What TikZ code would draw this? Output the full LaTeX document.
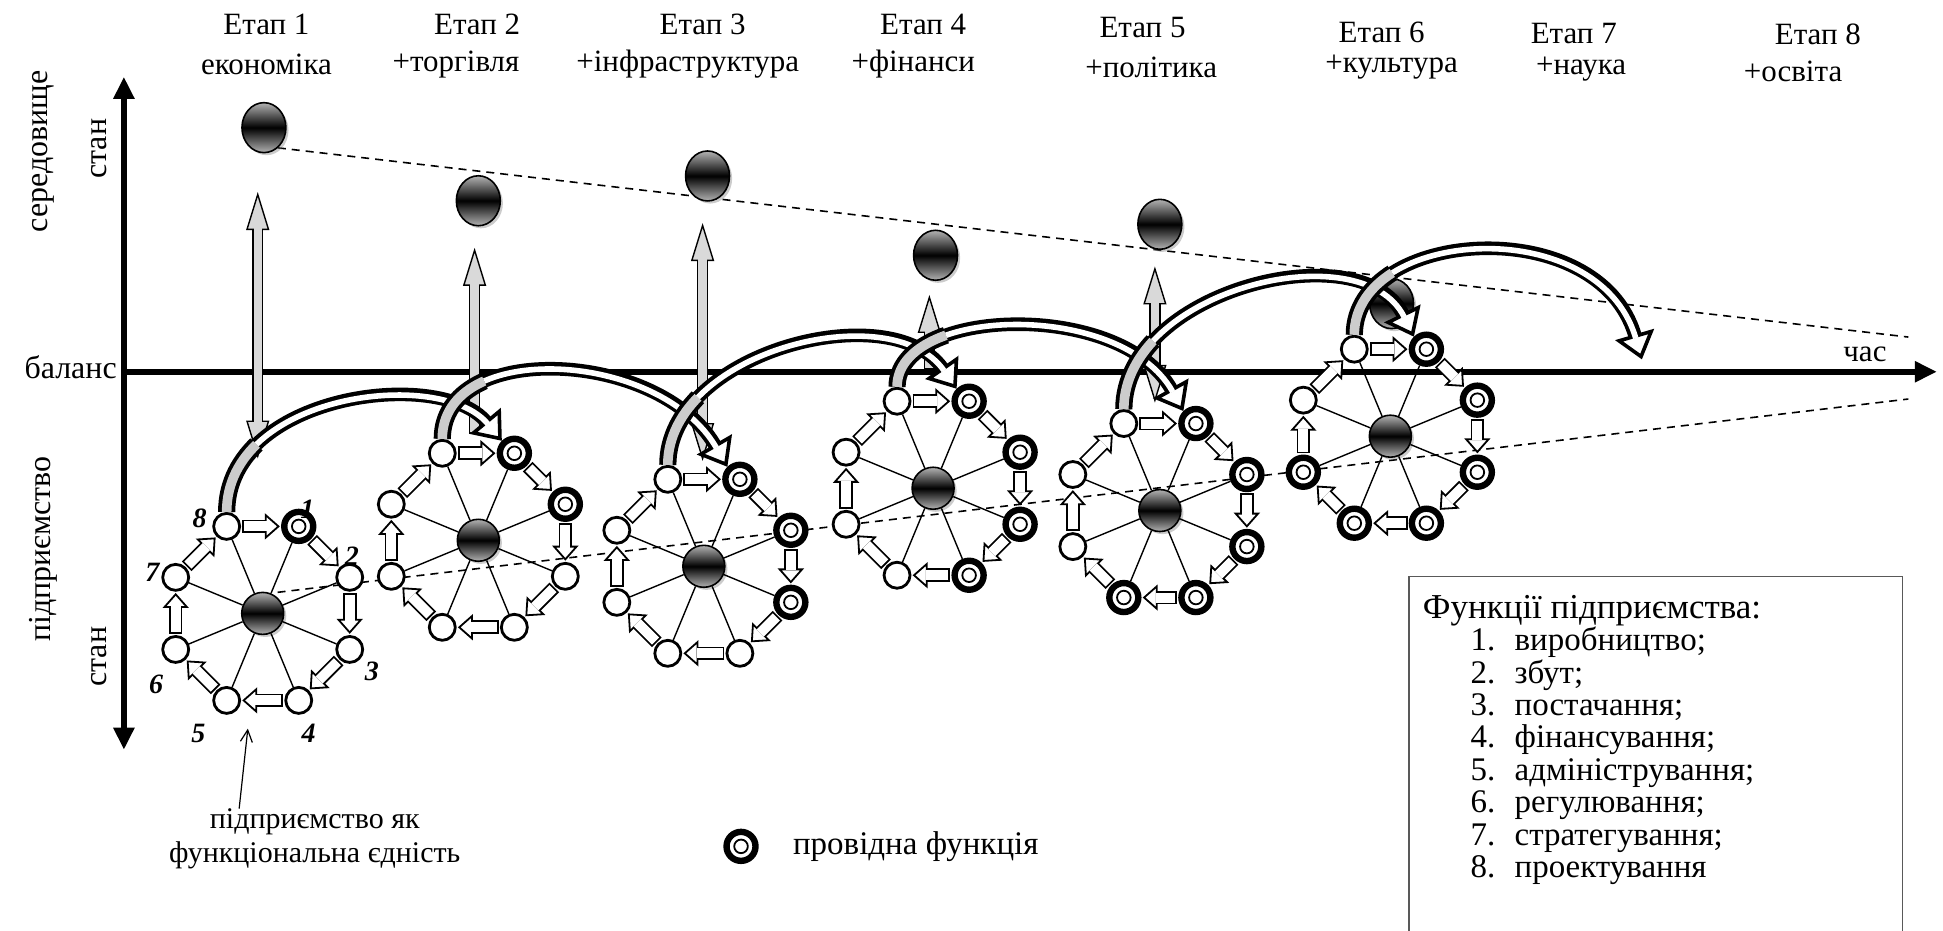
\documentclass[tikz,border=0pt]{standalone}
\usepackage{fontspec}
\setmainfont{Liberation Serif}
\usetikzlibrary{arrows.meta,positioning,calc,shapes.geometric,shadows}

% block arrow: thin tip, black band, white core
\newcommand\flow[2]{%
  \draw[flowtip] ($(#1)!0.5!(#2)$) -- (#2);
  \draw[flowband] (#1) -- (#2);
  \draw[flowcore] (#1) -- (#2);
}
% grey arrow towards the environment
\newcommand\envup[2]{%
  \draw[envtip] ($(#1)!0.5!(#2)$) -- (#2);
  \draw[envband] (#1) -- (#2);
  \draw[envcore] (#1) -- (#2);
}
\newcommand\envboth[2]{%
  \draw[envtip] ($(#1)!0.5!(#2)$) -- (#1);
  \draw[envtip] ($(#1)!0.5!(#2)$) -- (#2);
  \draw[envband,shorten <=18.4pt] (#1) -- (#2);
  \draw[envcore,shorten <=17.8pt] (#1) -- (#2);
}

\tikzset{
  ball/.style={circle,draw,line width=0.8pt,minimum size=21pt,inner sep=0pt,
    top color=gray!60,bottom color=gray!60,middle color=black,
    drop shadow={opacity=0.4,shadow xshift=1.3pt,shadow yshift=-1.3pt}},
  envball/.style={ball,ellipse,minimum width=22pt,minimum height=25pt},
  fnode/.style={circle,draw,line width=1.4pt,fill=white,minimum size=13pt,inner sep=0pt},
  lead/.style={circle,draw,line width=3.2pt,fill=white,minimum size=14.5pt,inner sep=0pt,
    path picture={\draw[line width=0.9pt] (path picture bounding box.center) circle (3.4pt);}},
  kind/.code 2 args={\ifnum#1>#2\relax\pgfkeysalso{fnode}\else\pgfkeysalso{lead}\fi},
  spoke/.style={line width=0.7pt},
  flowtip/.style={line width=0.9pt,shorten >=0.6pt,-{Triangle[fill=white,length=7.5pt,width=13pt]}},
  flowband/.style={line width=6.8pt,shorten <=0.6pt,shorten >=7.9pt},
  flowcore/.style={white,line width=5pt,shorten <=1.5pt,shorten >=7.2pt},
  envtip/.style={line width=0.7pt,-{Triangle[fill=gray!30,length=19pt,width=11.5pt]}},
  envband/.style={line width=5.6pt,shorten >=18.4pt},
  envcore/.style={gray!30,line width=4.2pt,shorten <=0.7pt,shorten >=17.8pt},
  hoptip/.style={line width=1.8pt,-{Triangle[fill=white,length=13pt,width=20pt]}},
  hopband/.style={line width=6.8pt,shorten >=12.4pt},
  hopfoot/.style={line width=8.6pt,shorten >=12pt,dash pattern=on 38pt off 3000pt},
  hopbase/.style={gray!40,line width=4.8pt,shorten >=12pt,dash pattern=on 38pt off 3000pt},
  hopcore/.style={white,line width=2.8pt,shorten >=11pt,dash pattern=on 3000pt off 38pt,dash phase=3000pt},
  axis/.style={line width=3pt},
  trend/.style={line width=0.8pt,dash pattern=on 4pt off 3pt},
  lbl/.style={font=\fontsize{15.5}{17}\selectfont,inner sep=0pt},
  side/.style={font=\fontsize{16}{18}\selectfont,inner sep=0pt,rotate=90},
  numlab/.style={font=\fontsize{14}{16}\selectfont\bfseries\itshape,inner sep=0pt},
  keytext/.style={font=\fontsize{16.5}{18}\selectfont,inner sep=0pt},
}

\begin{document}
\begin{tikzpicture}[x=0.62pt,y=-0.62pt]
  \useasboundingbox (0,0) rectangle (1568,751);

  % trend lines
  \coordinate (ustart) at (213,118);
  \coordinate (uend) at (1540,272);
  \coordinate (lstart) at (224,478);
  \coordinate (lend) at (1540,322);
  \draw[trend] (ustart) -- (uend);
  \draw[trend] (lstart) -- (lend);

  % environment states
  \foreach \i/\x/\y in {1/213/103,2/386/162,3/571/142,4/755/206,5/936/181,6/1123/245}
    \node[envball] (env\i) at (\x,\y) {};

  % axes
  \coordinate (ybot) at (100,605);
  \coordinate (ytop) at (100,62);
  \coordinate (orig) at (100,300);
  \coordinate (tend) at (1563,300);
  \draw[axis,{Triangle[length=11pt,width=10pt]}-{Triangle[length=11pt,width=10pt]}] (ybot) -- (ytop);
  \draw[axis,-{Triangle[length=11pt,width=10pt]}] (orig) -- (tend);

  \node[side] (envlab) at (35,122) {середовище};
  \node[side] (envstate) at (80,120) {стан};
  \node[lbl,font=\fontsize{16}{18}\selectfont] (bal) at (57,296) {баланс};
  \node[side] (entlab) at (35,443) {підприємство};
  \node[side] (entstate) at (80,530) {стан};
  \node[lbl] (time) at (1505,286) {час};

  % stages
  \foreach \i/\x/\y/\dom/\dx/\dy in {1/215/20/економіка/215/52,2/385/20/+торгівля/368/52,
      3/567/20/+інфраструктура/555/52,4/745/20/+фінанси/737/52,5/922/22/+політика/929/54,
      6/1115/26/+культура/1123/54,7/1270/27/+наука/1276/56,8/1467/28/+освіта/1447/58}{
    \node[lbl] (st\i) at (\x,\y) {Етап \i};
    \node[lbl] (dom\i) at (\dx,\dy) {\dom};
  }

  % pressure of environment
  \foreach \i/\x/\t/\b in {1/208/155/370,2/383/200/350,3/567/180/372,4/750/238/298,5/932/215/325}{
    \coordinate (up\i) at (\x,\t);
    \coordinate (dn\i) at (\x,\b);
  }
  \envboth{dn1}{up1}
  \envup{dn2}{up2}
  \envboth{dn3}{up3}
  \envup{dn4}{up4}
  \envboth{dn5}{up5}

  % enterprise at each stage
  \foreach \c/\cx/\cy/\lead in {1/212/495/1,2/386/436/2,3/568/457/3,4/753/394/4,5/936/412/5,6/1122/352/6}{
    \node[ball] (c\c) at (\cx,\cy) {};
    \foreach \k in {1,...,8}{
      \node[kind={\k}{\lead}] (c\c-\k) at ($(c\c)+({45*\k-112.5}:76)$) {};
      \draw[spoke] (c\c) -- (c\c-\k);
    }
    \foreach \k in {1,...,8}{
      \pgfmathtruncatemacro\nx{mod(\k,8)+1}
      \flow{c\c-\k}{c\c-\nx}
    }
  }
  \foreach \k/\x/\y in {1/248/411,2/284/449,3/300/542,4/249/592,5/160/592,6/126/552,7/123/462,8/161/418}
    \node[numlab] (num\k) at (\x,\y) {\k};

  % transitions between stages
  \coordinate (hopend) at (1325,290);
  \foreach \a/\from/\to/\ay/\bx/\by in {1/c1-8.north/c2-1.north west/-95/-50/-60,
      2/c2-8.north/c3-1.north west/-80/-55/-95,3/c3-8.north/c4-1.north west/-91/-53/-76,
      4/c4-8.north/c5-1.north west/-65/-50/-90,5/c5-8.north/c6-1.north west/-96/-42/-85,
      6/c6-8.north/hopend/-86/-35/-120}{
    \draw[hoptip] ($(\to)+({0.2*(\bx)},{0.2*(\by)})$) -- (\to);
    \draw[hopband] (\from) .. controls +(0,\ay) and +(\bx,\by) .. (\to);
    \draw[hopfoot] (\from) .. controls +(0,\ay) and +(\bx,\by) .. (\to);
    \draw[hopbase] (\from) .. controls +(0,\ay) and +(\bx,\by) .. (\to);
    \draw[hopcore] (\from) .. controls +(0,\ay) and +(\bx,\by) .. (\to);
  }

  % notes
  \node[lbl,align=center,font=\fontsize{15}{16.8}\selectfont] (unity) at (254,677) {підприємство як\\функціональна єдність};
  \coordinate (ptr) at (200,588);
  \draw[line width=0.6pt,-{Straight Barb[length=6pt,width=6pt]}] ($(unity.north)+(-61,0)$) -- (ptr);

  \node[lead] (key) at (598,683) {};
  \node[keytext,right=17pt of key] (keylab) {провідна функція};

  % legend
  \draw[line width=0.6pt,draw=gray!70!black] (1137,465) rectangle (1535,760);
  \node[keytext,anchor=base west,font=\fontsize{17.5}{19}\selectfont] (ftitle) at (1148,499) {Функції підприємства:};
  \foreach \k/\f in {1/виробництво;,2/збут;,3/постачання;,4/фінансування;,5/адміністрування;,
      6/регулювання;,7/стратегування;,8/проектування}{
    \node[keytext,anchor=base east] (fn\k) at (1207,{525+26.2*(\k-1)}) {\k.};
    \node[keytext,anchor=base west] (fname\k) at (1222,{525+26.2*(\k-1)}) {\f};
  }
\end{tikzpicture}
\end{document}
